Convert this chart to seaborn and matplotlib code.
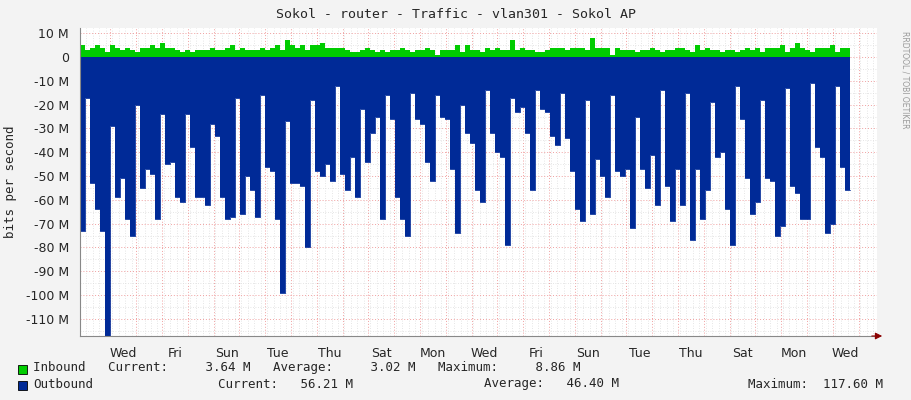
import numpy as np
import pandas as pd
import seaborn as sns
import matplotlib.pyplot as plt
from matplotlib.ticker import MultipleLocator, FuncFormatter

# outbound traffic (M bits/s), one sample per ~4.65 h
outbound = [73, 17, 53, 64, 73, 117, 29, 59, 51, 68, 75, 20, 55, 47, 49, 68, 24, 45, 44, 59,
            61, 24, 38, 59, 59, 62, 28, 33, 59, 68, 67, 17, 66, 50, 56, 67, 16, 46, 48, 68,
            99, 27, 53, 53, 54, 80, 18, 48, 50, 45, 52, 12, 49, 56, 42, 59, 22, 44, 32, 25,
            68, 16, 26, 59, 68, 75, 15, 26, 28, 44, 52, 16, 25, 26, 47, 74, 20, 32, 36, 56,
            61, 14, 32, 40, 42, 79, 17, 23, 21, 32, 56, 14, 22, 23, 33, 37, 15, 34, 48, 64,
            69, 18, 66, 43, 50, 59, 16, 48, 50, 47, 72, 25, 47, 55, 41, 62, 14, 54, 69, 47,
            62, 15, 77, 47, 68, 56, 19, 42, 40, 64, 79, 12, 26, 51, 66, 61, 18, 51, 52, 75,
            71, 13, 54, 57, 68, 68, 11, 38, 42, 74, 70, 12, 46, 56]
inbound = [5, 3, 4, 5, 4, 2, 5, 4, 3, 4, 3, 2, 4, 4, 5, 4, 6, 4, 4, 3,
           2, 3, 2, 3, 3, 3, 4, 3, 3, 4, 5, 3, 4, 3, 3, 3, 4, 3, 4, 5,
           3, 7, 5, 4, 5, 3, 5, 5, 6, 4, 4, 4, 4, 3, 2, 2, 3, 4, 3, 2,
           3, 2, 3, 3, 4, 3, 2, 3, 3, 4, 3, 1, 3, 3, 3, 5, 2, 5, 3, 3,
           2, 4, 3, 4, 3, 3, 7, 3, 4, 3, 3, 2, 2, 3, 4, 4, 4, 3, 4, 4,
           4, 3, 8, 4, 4, 4, 1, 4, 3, 3, 3, 2, 3, 3, 4, 3, 2, 3, 3, 4,
           4, 3, 2, 5, 3, 4, 3, 3, 2, 3, 3, 2, 3, 4, 3, 4, 2, 4, 4, 4,
           5, 2, 4, 6, 4, 3, 2, 4, 4, 4, 5, 2, 4, 4]
day_names = ["Wed", "Fri", "Sun", "Tue", "Thu", "Sat", "Mon",
             "Wed", "Fri", "Sun", "Tue", "Thu", "Sat", "Mon", "Wed"]

step = 5 / 25.8  # days per sample
n = len(outbound)
df = pd.DataFrame({"t": np.arange(n + 1) * step,
                   "out": [-v for v in outbound] + [-outbound[-1]],
                   "inb": inbound + [inbound[-1]]})

sns.set_style("white")
plt.rcParams["font.family"] = ["DejaVu Sans Mono"]
fig = plt.figure(figsize=(9.11, 4.0), dpi=100, facecolor="#F3F3F3")
ax = fig.add_axes([80 / 911, 1 - 336 / 400, 797 / 911, 308 / 400])
ax.set_facecolor("white")

ax.fill_between(df["t"], df["inb"], 0, step="post", color="#00CC00", lw=0)
ax.fill_between(df["t"], df["out"], 0, step="post", color="#002A97", lw=0)
sns.lineplot(data=df, x="t", y="out", ax=ax, drawstyle="steps-post", color="#002A97", lw=0.6)

ax.set_xlim(0, 797 / 25.8)
ax.set_ylim(-117.2, 12.2)
mid0 = 30.4 / 25.8
ax.xaxis.set_major_locator(plt.FixedLocator([mid0 + k for k in range(31)]))
ax.xaxis.set_minor_locator(MultipleLocator(0.25))
ax.yaxis.set_major_locator(MultipleLocator(10))
ax.yaxis.set_minor_locator(MultipleLocator(5))
ax.grid(which="minor", color="#DDDDDD", ls=(0, (1, 2)), lw=0.6)
ax.grid(which="major", color="#F0A0A0", ls=(0, (1, 2)), lw=0.7)
ax.set_axisbelow(True)
ax.set_xticklabels([])
for i, d in enumerate(day_names):
    ax.text(mid0 + 0.5 + 2 * i, -0.035, d, transform=ax.get_xaxis_transform(),
            ha="center", va="top", fontsize=9, family="DejaVu Sans")
ax.yaxis.set_major_formatter(FuncFormatter(lambda v, p: "0" if abs(v) < 1e-6 else f"{int(round(v))} M"))
ax.tick_params(axis="y", labelsize=9, length=2, pad=6)
ax.tick_params(axis="x", length=2)
for lab in ax.get_yticklabels():
    lab.set_family("DejaVu Sans")
for s in ["top", "right"]:
    ax.spines[s].set_visible(False)
ax.spines["left"].set_color("#888888")
ax.spines["bottom"].set_color("#888888")
ax.set_xlabel("")
ax.set_ylabel("bits per second", fontsize=9, labelpad=6)
ax.annotate("", xy=(1.01, 0), xycoords="axes fraction", xytext=(0.99, 0),
            arrowprops=dict(arrowstyle="-|>", color="#8B0000", lw=0.8))

fig.text(0.5, 0.965, "Sokol - router - Traffic - vlan301 - Sokol AP", ha="center", va="center", fontsize=9.5)
fig.text(0.993, 0.8, "RRDTOOL / TOBI OETIKER", rotation=270, ha="center", va="center",
         fontsize=5.5, color="#999999", family="DejaVu Sans")

fs = 9
fig.patches.append(plt.Rectangle((18 / 911, 1 - 374 / 400), 9 / 911, 9 / 400, transform=fig.transFigure,
                                 facecolor="#00CC00", edgecolor="black", lw=0.6))
fig.patches.append(plt.Rectangle((18 / 911, 1 - 390 / 400), 9 / 911, 9 / 400, transform=fig.transFigure,
                                 facecolor="#002A97", edgecolor="black", lw=0.6))
fig.text(33 / 911, 1 - 368 / 400, "Inbound   Current:     3.64 M   Average:     3.02 M   Maximum:     8.86 M",
         va="center", fontsize=fs)
fig.text(33 / 911, 1 - 384 / 400, "Outbound", va="center", fontsize=fs)
fig.text(218 / 911, 1 - 384 / 400, "Current:   56.21 M", va="center", fontsize=fs)
fig.text(484 / 911, 1 - 384 / 400, "Average:   46.40 M", va="center", fontsize=fs)
fig.text(748 / 911, 1 - 384 / 400, "Maximum:  117.60 M", va="center", fontsize=fs)

fig.savefig("out.png", dpi=100, facecolor=fig.get_facecolor())
